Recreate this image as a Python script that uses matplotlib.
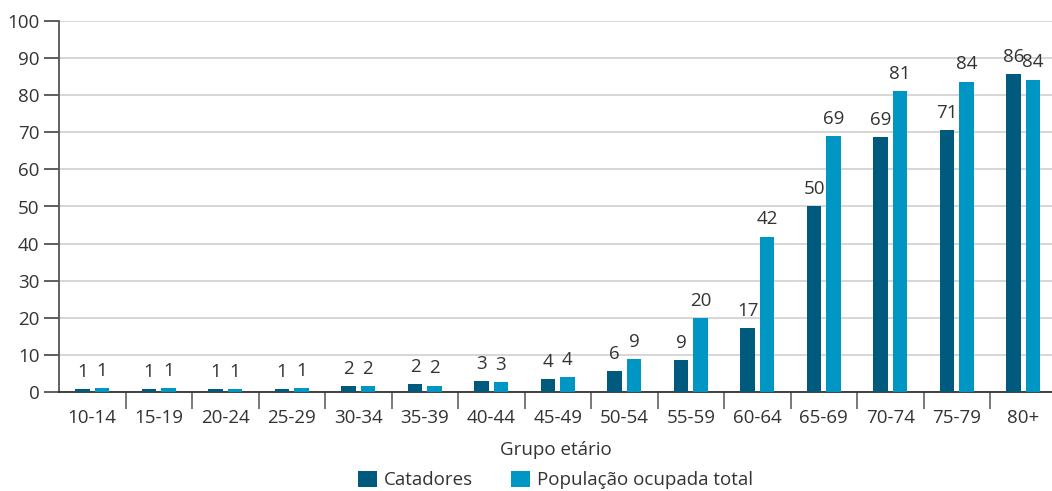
import matplotlib.pyplot as plt
import numpy as np

# Participação (%) por grupo etário
grupos = ["10-14", "15-19", "20-24", "25-29", "30-34", "35-39", "40-44", "45-49",
          "50-54", "55-59", "60-64", "65-69", "70-74", "75-79", "80+"]
catadores = [0.8, 0.8, 0.8, 0.8, 1.6, 2.2, 3.0, 3.6, 5.6, 8.7, 17.2, 50.1, 68.6, 70.6, 85.6]
pop_ocupada = [1.1, 1.1, 0.9, 1.1, 1.6, 1.8, 2.7, 4.1, 9.0, 20.0, 41.9, 69.0, 81.1, 83.6, 84.1]

cor_cat = "#005a7e"
cor_pop = "#0096c3"
cor_txt = "#333333"
fs = 13.5

plt.rcParams["font.family"] = ["Open Sans", "DejaVu Sans"]
plt.rcParams["text.color"] = cor_txt

fig = plt.figure(figsize=(10.52, 4.91), dpi=100)
ax = fig.add_axes([59 / 1052, 1 - 392.3 / 491, 1 - 59 / 1052, (392.3 - 20.7) / 491])

x = np.arange(len(grupos))
w = 0.22
off = 0.145
b1 = ax.bar(x - off, catadores, w, color=cor_cat, label="Catadores", zorder=3)
b2 = ax.bar(x + off, pop_ocupada, w, color=cor_pop, label="População ocupada total", zorder=3)

for bars in (b1, b2):
    ax.bar_label(bars, fmt="%.0f", padding=6, fontsize=fs, color=cor_txt)

ax.set_ylim(0, 100)
ax.set_xlim(-0.5, -0.5 + (1052 - 59) / 66.5)
ax.set_yticks(range(0, 101, 10))
ax.yaxis.grid(True, color="#d0d0d0", linewidth=1.2, zorder=0)
ax.set_axisbelow(True)

# rótulos dos grupos no centro, separadores entre os grupos
ax.set_xticks(x)
ax.set_xticklabels(grupos)
ax.set_xticks(np.arange(0.5, len(grupos) - 0.5), minor=True)
ax.tick_params(axis="x", which="major", length=0, pad=12, labelsize=fs, labelcolor=cor_txt)
ax.tick_params(axis="x", which="minor", length=12, width=1.1, color="#555555", direction="out")
ax.tick_params(axis="y", length=11, width=1.1, color="#333333", pad=3, labelsize=fs,
               labelcolor=cor_txt)

for s in ("top", "right"):
    ax.spines[s].set_visible(False)
ax.spines["left"].set_color("#555555")
ax.spines["left"].set_linewidth(1.3)
ax.spines["bottom"].set_color("#333333")
ax.spines["bottom"].set_linewidth(1.3)

ax.set_xlabel("Grupo etário", fontsize=fs, color=cor_txt, labelpad=10)

fig.legend(handles=[b1, b2], loc="center", bbox_to_anchor=(0.528, 1 - 480 / 491), ncol=2,
           frameon=False, fontsize=fs, handlelength=1.0, handleheight=1.0,
           handletextpad=0.4, columnspacing=2.0, borderaxespad=0)

fig.savefig("out.png", dpi=100)
